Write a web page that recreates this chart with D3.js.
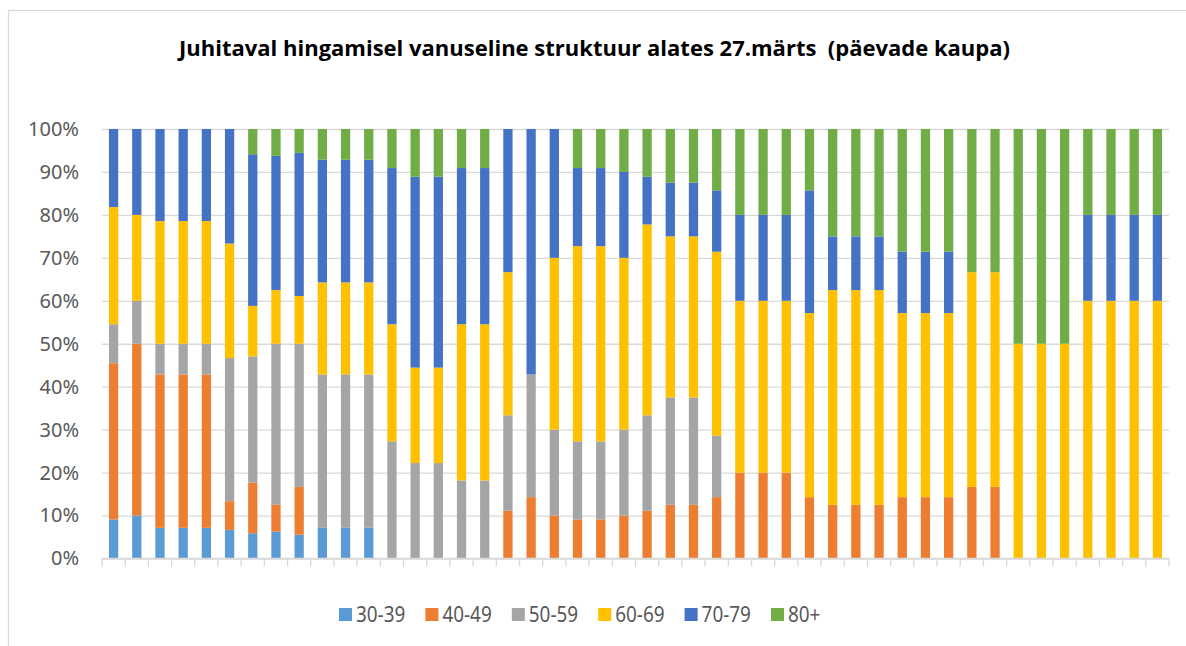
<!DOCTYPE html>
<html>
<head>
<meta charset="utf-8">
<script src="https://cdn.jsdelivr.net/npm/d3@7"></script>
<style>
  body { margin: 0; background: #fff; }
  svg { display: block; }
</style>
</head>
<body>
<svg id="chart" width="1186" height="646"></svg>
<script>

// number of patients per age group, one value per day (from 27. march)
let ageGroups = ['30-39', '40-49', '50-59', '60-69', '70-79', '80+'];
let colors = ['#5B9BD5', '#ED7D31', '#A5A5A5', '#FFC000', '#4472C4', '#70AD47'];

let g30 = [1,1,1,1,1,1,1,1,1,1,1,1,0,0,0,0,0,0,0,0,0,0,0,0,0,0,0,0,0,0,0,0,0,0,0,0,0,0,0,0,0,0,0,0,0,0];
let g40 = [4,4,5,5,5,1,2,1,2,0,0,0,0,0,0,0,0,1,1,1,1,1,1,1,1,1,1,1,1,1,1,1,1,1,1,1,1,1,1,0,0,0,0,0,0,0];
let g50 = [1,1,1,1,1,5,5,6,6,5,5,5,3,2,2,2,2,2,2,2,2,2,2,2,2,2,1,0,0,0,0,0,0,0,0,0,0,0,0,0,0,0,0,0,0,0];
let g60 = [3,2,4,4,4,4,2,2,2,3,3,3,3,2,2,4,4,3,0,4,5,5,4,4,3,3,3,2,2,2,3,4,4,4,3,3,3,3,3,1,1,1,3,3,3,3];
let g70 = [2,2,3,3,3,4,6,5,6,4,4,4,4,4,4,4,4,3,4,3,2,2,2,1,1,1,1,1,1,1,2,1,1,1,1,1,1,0,0,0,0,0,1,1,1,1];
let g80 = [0,0,0,0,0,0,1,1,1,1,1,1,1,1,1,1,1,0,0,0,1,1,1,1,1,1,1,1,1,1,1,2,2,2,2,2,2,2,2,1,1,1,1,1,1,1];

let yTicks = [0, 0.1, 0.2, 0.3, 0.4, 0.5, 0.6, 0.7, 0.8, 0.9, 1];

let series = [g30, g40, g50, g60, g70, g80];

let days = g30.map((d, i) => i);
let rows = days.map(i => {
  let r = { day: i };
  ageGroups.forEach((a, k) => r[a] = series[k][i]);
  return r;
});

let svg = d3.select('#chart');
let plotLeft = 102, plotRight = 1169, plotTop = 129, plotBottom = 558.5;

// chart border (only left and top show inside the picture)
svg.append('rect')
  .attr('x', 8.5).attr('y', 10.5)
  .attr('width', 1300).attr('height', 700)
  .attr('fill', 'none')
  .attr('stroke', '#d9d9d9')
  .attr('stroke-width', 1.2);

let x = d3.scaleBand()
  .domain(days)
  .range([plotLeft, plotRight])
  .paddingInner(0.6)
  .paddingOuter(0.3);

let y = d3.scaleLinear()
  .domain([0, 1])
  .range([plotBottom, plotTop]);

let color = d3.scaleOrdinal().domain(ageGroups).range(colors);

// gridlines
svg.append('g')
  .attr('transform', `translate(${plotLeft},0)`)
  .call(d3.axisLeft(y).tickValues(yTicks).tickSize(-(plotRight - plotLeft)).tickFormat(''))
  .call(g => g.select('.domain').remove())
  .call(g => g.selectAll('line').attr('stroke', '#d9d9d9').attr('stroke-width', 1.3));

// y labels
svg.append('g')
  .attr('transform', `translate(79,0)`)
  .call(d3.axisLeft(y).tickValues(yTicks).tickSize(0).tickPadding(0).tickFormat(d3.format('.0%')))
  .call(g => g.select('.domain').remove())
  .call(g => g.selectAll('text')
    .attr('fill', '#595959')
    .style('font-family', 'Noto Sans, sans-serif')
    .style('font-size', '20px'));

// stacked bars
let stack = d3.stack().keys(ageGroups).offset(d3.stackOffsetExpand);
let layers = stack(rows);

svg.append('g')
  .selectAll('g')
  .data(layers)
  .join('g')
  .attr('fill', d => color(d.key))
  .selectAll('rect')
  .data(d => d)
  .join('rect')
  .attr('x', d => x(d.data.day))
  .attr('width', x.bandwidth())
  .attr('y', d => y(d[1]))
  .attr('height', d => y(d[0]) - y(d[1]));

// x axis line and category ticks
let step = x.step();
svg.append('line')
  .attr('x1', plotLeft).attr('x2', plotRight)
  .attr('y1', plotBottom).attr('y2', plotBottom)
  .attr('stroke', '#d9d9d9').attr('stroke-width', 1.3);

svg.append('g')
  .selectAll('line')
  .data(d3.range(days.length + 1))
  .join('line')
  .attr('x1', i => plotLeft + i * step)
  .attr('x2', i => plotLeft + i * step)
  .attr('y1', plotBottom)
  .attr('y2', plotBottom + 8)
  .attr('stroke', '#d9d9d9').attr('stroke-width', 1.3);

// title (narrowed a bit so it looks like calibri)
svg.append('text')
  .attr('x', 179)
  .attr('y', 56)
  .attr('xml:space', 'preserve')
  .attr('textLength', 831)
  .attr('lengthAdjust', 'spacingAndGlyphs')
  .style('font-family', 'Open Sans, sans-serif')
  .style('font-weight', 'bold')
  .style('font-size', '22px')
  .attr('fill', '#000')
  .text('Juhitaval hingamisel vanuseline struktuur alates 27.märts  (päevade kaupa)');

// legend
let legend = svg.append('g')
  .selectAll('g')
  .data(ageGroups)
  .join('g')
  .attr('transform', (d, i) => `translate(${339 + i * 86.4},615)`);

legend.append('rect')
  .attr('x', 0).attr('y', -7)
  .attr('width', 13).attr('height', 13)
  .attr('fill', d => color(d));

legend.append('text')
  .attr('x', 17)
  .attr('y', 0)
  .attr('dy', '0.35em')
  .attr('fill', '#595959')
  .style('font-family', 'Noto Sans, sans-serif')
  .style('font-size', '21px')
  .text(d => d)
  .each(function () {
    let w = this.getComputedTextLength();
    d3.select(this).attr('textLength', w * 0.9).attr('lengthAdjust', 'spacingAndGlyphs');
  });

</script>
</body>
</html>
